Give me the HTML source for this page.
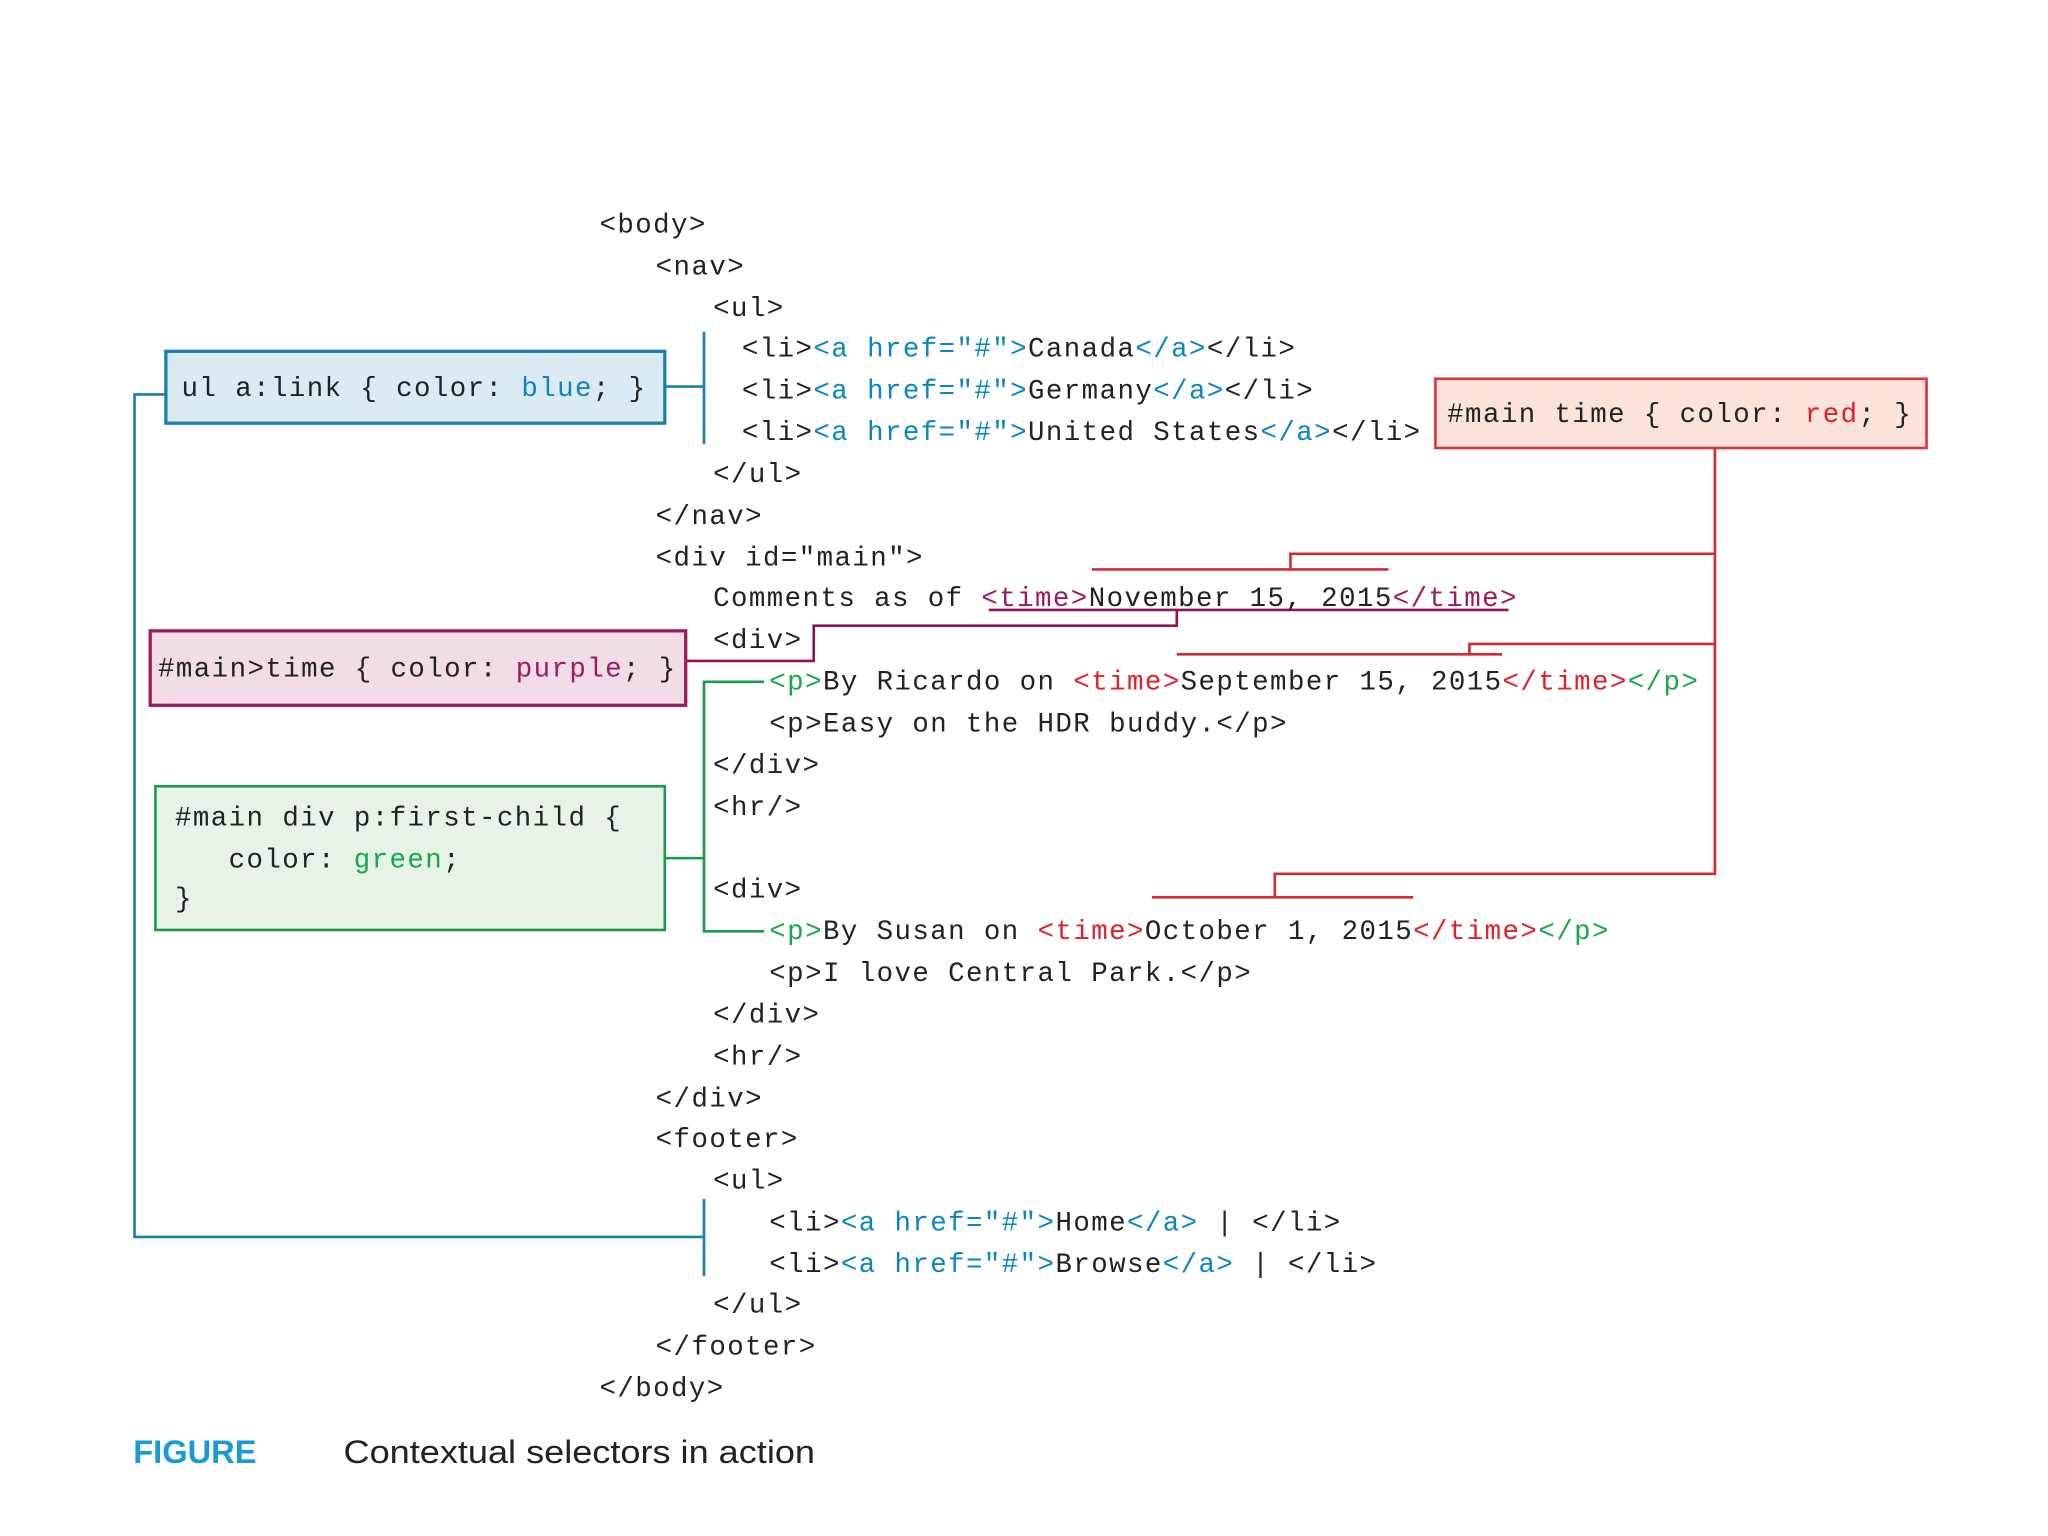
<!DOCTYPE html>
<html><head><meta charset="utf-8"><style>
html,body{margin:0;padding:0;background:#fff;}
svg{display:block}
.c{font-family:"Liberation Mono",monospace;font-size:21px;letter-spacing:1.1px;fill:#222;}
.b{fill:#0a86c2}.r{fill:#e0202a}.g{fill:#17a84a}.p{fill:#9c1b5e}
</style></head><body>
<svg width="2048" height="1536" viewBox="0 0 1568 1176" xmlns="http://www.w3.org/2000/svg">
<g fill="none" stroke-width="2">
<!-- blue -->
<path d="M539 254V340M509 296H539M127 302H103V947H539M539 918V977" stroke="#1a7fb0"/>
<!-- purple -->
<path d="M757 467H1155M901 467V479H623V506H525" stroke="#8e1556"/>
<!-- red -->
<path d="M1313 343V669H976V687M882 687H1082M1313 424H988V436M836 436H1063M1313 493H1125V501M901 501H1150" stroke="#d42a34"/>
<!-- green -->
<path d="M585 522H539V713H585M509 657H539" stroke="#1a9a4a"/>
</g>
<rect x="127" y="269" width="382" height="55" fill="#dcebf3" stroke="#1a7fb0" stroke-width="2.5"/>
<rect x="1099" y="290" width="376" height="53" fill="#fbe3dc" stroke="#d9343a" stroke-width="2"/>
<rect x="115" y="483" width="410" height="57" fill="#f2dde6" stroke="#9c1b5e" stroke-width="2.5"/>
<rect x="119" y="602" width="390" height="110" fill="#e6f3e6" stroke="#1a9a4a" stroke-width="2"/>
<g class="c" xml:space="preserve">
<text x="139" y="303">ul a:link { color: <tspan class="b">blue</tspan>; }</text>
<text x="1108" y="323">#main time { color: <tspan class="r">red</tspan>; }</text>
<text x="121" y="518">#main&gt;time { color: <tspan class="p">purple</tspan>; }</text>
<text x="134" y="632">#main div p:first-child {</text>
<text x="175" y="664">color: <tspan class="g">green</tspan>;</text>
<text x="134" y="694">}</text>

<text x="459" y="178">&lt;body&gt;</text>
<text x="502" y="210">&lt;nav&gt;</text>
<text x="546" y="242">&lt;ul&gt;</text>
<text x="568" y="273">&lt;li&gt;<tspan class="b">&lt;a href="#"&gt;</tspan>Canada<tspan class="b">&lt;/a&gt;</tspan>&lt;/li&gt;</text>
<text x="568" y="305">&lt;li&gt;<tspan class="b">&lt;a href="#"&gt;</tspan>Germany<tspan class="b">&lt;/a&gt;</tspan>&lt;/li&gt;</text>
<text x="568" y="337">&lt;li&gt;<tspan class="b">&lt;a href="#"&gt;</tspan>United States<tspan class="b">&lt;/a&gt;</tspan>&lt;/li&gt;</text>
<text x="546" y="369">&lt;/ul&gt;</text>
<text x="502" y="401">&lt;/nav&gt;</text>
<text x="502" y="433">&lt;div id="main"&gt;</text>
<text x="546" y="464">Comments as of <tspan class="p">&lt;time&gt;</tspan>November 15, 2015<tspan class="p">&lt;/time&gt;</tspan></text>
<text x="546" y="496">&lt;div&gt;</text>
<text x="589" y="528"><tspan class="g">&lt;p&gt;</tspan>By Ricardo on <tspan class="r">&lt;time&gt;</tspan>September 15, 2015<tspan class="r">&lt;/time&gt;</tspan><tspan class="g">&lt;/p&gt;</tspan></text>
<text x="589" y="560">&lt;p&gt;Easy on the HDR buddy.&lt;/p&gt;</text>
<text x="546" y="592">&lt;/div&gt;</text>
<text x="546" y="624">&lt;hr/&gt;</text>
<text x="546" y="687">&lt;div&gt;</text>
<text x="589" y="719"><tspan class="g">&lt;p&gt;</tspan>By Susan on <tspan class="r">&lt;time&gt;</tspan>October 1, 2015<tspan class="r">&lt;/time&gt;</tspan><tspan class="g">&lt;/p&gt;</tspan></text>
<text x="589" y="751">&lt;p&gt;I love Central Park.&lt;/p&gt;</text>
<text x="546" y="783">&lt;/div&gt;</text>
<text x="546" y="815">&lt;hr/&gt;</text>
<text x="502" y="847">&lt;/div&gt;</text>
<text x="502" y="878">&lt;footer&gt;</text>
<text x="546" y="910">&lt;ul&gt;</text>
<text x="589" y="942">&lt;li&gt;<tspan class="b">&lt;a href="#"&gt;</tspan>Home<tspan class="b">&lt;/a&gt;</tspan> | &lt;/li&gt;</text>
<text x="589" y="974">&lt;li&gt;<tspan class="b">&lt;a href="#"&gt;</tspan>Browse<tspan class="b">&lt;/a&gt;</tspan> | &lt;/li&gt;</text>
<text x="546" y="1005">&lt;/ul&gt;</text>
<text x="502" y="1037">&lt;/footer&gt;</text>
<text x="459" y="1069">&lt;/body&gt;</text>
</g>
<text x="102" y="1120" font-family="Liberation Sans, sans-serif" font-size="25" font-weight="bold" fill="#1a9ad6">FIGURE</text>
<text x="263" y="1120" font-family="Liberation Sans, sans-serif" font-size="25" fill="#222" textLength="361" lengthAdjust="spacingAndGlyphs">Contextual selectors in action</text>
</svg>
</body></html>
